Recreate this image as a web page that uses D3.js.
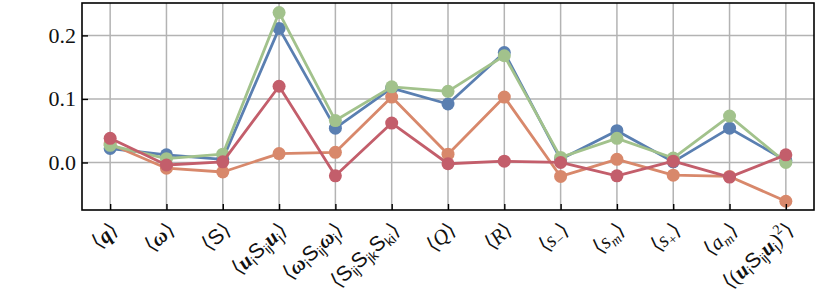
<!DOCTYPE html>
<html><head><meta charset="utf-8">
<script src="https://cdn.jsdelivr.net/npm/d3@7"></script>
<style>body{margin:0;background:#fff}svg{display:block}</style>
</head><body><svg id="c" width="822" height="301"></svg>
<script>
// ---- data ----
const categories = ["q","omega","S","uSu","wSw","SSS","Q","R","s-","sm","s+","am","uSu2"];
// tick labels as [text, style] segments (bi=bold italic, i=italic, sf=sans, sub/sup)
const tickLabels = [
  [["⟨",""],["q","bi"],["⟩",""]],
  [["⟨",""],["ω","bi"],["⟩",""]],
  [["⟨",""],["S","sf"],["⟩",""]],
  [["⟨",""],["u","bi"],["i","sfsub"],["S","sf"],["ij","sfsub"],["u","bi"],["j","sfsub"],["⟩",""]],
  [["⟨",""],["ω","bi"],["i","sfsub"],["S","sf"],["ij","sfsub"],["ω","bi"],["j","sfsub"],["⟩",""]],
  [["⟨",""],["S","sf"],["ij","sfsub"],["S","sf"],["jk","sfsub"],["S","sf"],["ki","sfsub"],["⟩",""]],
  [["⟨",""],["Q","i"],["⟩",""]],
  [["⟨",""],["R","i"],["⟩",""]],
  [["⟨",""],["s","i"],["−","sub"],["⟩",""]],
  [["⟨",""],["s","i"],["m","isub"],["⟩",""]],
  [["⟨",""],["s","i"],["+","sub"],["⟩",""]],
  [["⟨",""],["a","i"],["m","isub"],["⟩",""]],
  [["⟨",""],["(",""],["u","bi"],["i","sfsub"],["S","sf"],["ij","sfsub"],["u","bi"],["j","sfsub"],[")",""],["2","sup"],["⟩",""]]
];
const yTicks = [0.0, 0.1, 0.2];
const seriesBlue   = [0.022, 0.012, 0.005, 0.211, 0.054, 0.117, 0.092, 0.173, 0.005, 0.050, 0.001, 0.054, 0.003];
const seriesOrange = [0.029, -0.009, -0.015, 0.014, 0.016, 0.103, 0.013, 0.103, -0.022, 0.005, -0.020, -0.022, -0.061];
const seriesGreen  = [0.027, 0.006, 0.013, 0.236, 0.066, 0.119, 0.112, 0.168, 0.008, 0.038, 0.007, 0.073, 0.000];
const seriesRed    = [0.038, -0.004, 0.001, 0.120, -0.021, 0.062, -0.002, 0.002, 0.000, -0.021, 0.002, -0.023, 0.012];
const seriesList = [
  {name:"blue", values: seriesBlue, color:"#5a7fb1"},
  {name:"orange", values: seriesOrange, color:"#d8886b"},
  {name:"green", values: seriesGreen, color:"#a2c28c"},
  {name:"red", values: seriesRed, color:"#c35e6b"}
];

// ---- layout ----
const svg = d3.select("#c");
const L = 82, R = 814, T = 3, B = 210;
const SERIF = '"Liberation Serif"';
const SANS = '"Liberation Sans"';
const x = d3.scalePoint().domain(categories).range([L, R]).padding(0.5);
const y = d3.scaleLinear().domain([-0.0748, 0.251]).range([B, T]);

// grid
const grid = svg.append("g").attr("stroke","#b3b3b3").attr("stroke-width",1.5);
categories.forEach(c => grid.append("line").attr("x1",x(c)).attr("x2",x(c)).attr("y1",T).attr("y2",B));
yTicks.forEach(v => grid.append("line").attr("x1",L).attr("x2",R).attr("y1",y(v)).attr("y2",y(v)));

// series
const line = d3.line().x((d,i)=>x(categories[i])).y(d=>y(d));
seriesList.forEach(s => {
  const g = svg.append("g");
  g.append("path").datum(s.values).attr("d", line).attr("fill","none")
    .attr("stroke", s.color).attr("stroke-width",2.8).attr("stroke-linejoin","round");
  g.selectAll("circle").data(s.values).join("circle")
    .attr("cx",(d,i)=>x(categories[i])).attr("cy",d=>y(d)).attr("r",6.5).attr("fill",s.color);
});

// axes frame
svg.append("rect").attr("x",L).attr("y",T).attr("width",R-L).attr("height",B-T)
  .attr("fill","none").attr("stroke","#000").attr("stroke-width",1.6);

// y axis ticks (inward) & labels
const yAxis = d3.axisLeft(y).tickValues(yTicks).tickFormat(d3.format(".1f")).tickSizeInner(-6).tickSizeOuter(0).tickPadding(6);
const ya = svg.append("g").attr("transform",`translate(${L},0)`).call(yAxis);
ya.attr("font-family", null).attr("font-size", null);
ya.select(".domain").remove();
ya.selectAll(".tick line").attr("stroke","#000").attr("stroke-width",1.4);
ya.selectAll(".tick text").style("font-family",SERIF).style("font-size","22px").attr("fill","#111");

// x axis ticks (inward)
const xAxis = d3.axisBottom(x).tickSizeInner(-6).tickSizeOuter(0).tickFormat("");
const xa = svg.append("g").attr("transform",`translate(0,${B})`).call(xAxis);
xa.select(".domain").remove();
xa.selectAll(".tick line").attr("stroke","#000").attr("stroke-width",1.4);

// rotated rich tick labels
const labG = svg.append("g");
categories.forEach((c, i) => {
  const t = labG.append("text").style("font-family",SERIF)
    .attr("transform", `translate(${x(c)+9},${B+22}) rotate(-42)`)
    .attr("text-anchor","end").style("font-size","21px").attr("fill","#111");
  let shift = 0;
  tickLabels[i].forEach(([txt, st]) => {
    const sp = t.append("tspan").text(txt);
    let target = 0;
    if (st.includes("sub")) { target = 4; sp.style("font-size","14px"); }
    if (st.includes("sup")) { target = -9; sp.style("font-size","14px"); }
    if (target !== shift) { sp.attr("dy", target - shift); shift = target; }
    if (st.startsWith("bi")) sp.style("font-weight","bold").style("font-style","italic");
    if (st === "i" || st === "isub") sp.style("font-style","italic");
    if (st.startsWith("sf")) sp.style("font-family",SANS);
  });
});
</script></body></html>
